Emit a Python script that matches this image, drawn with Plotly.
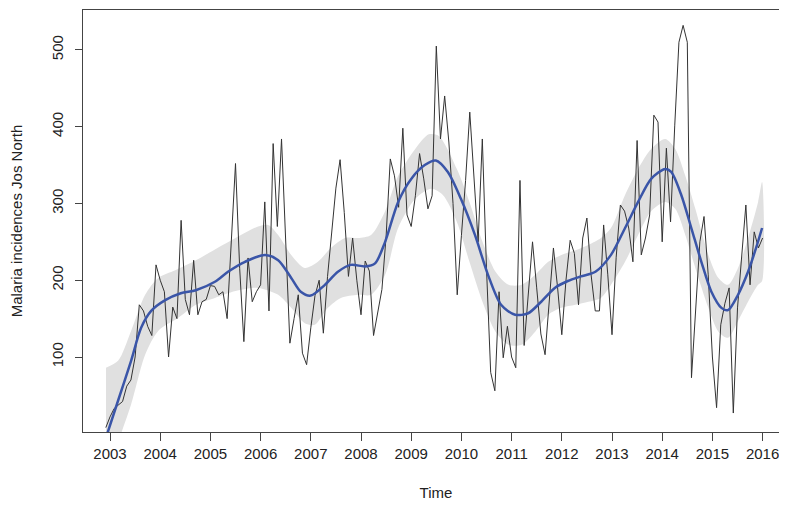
import numpy as np
import plotly.graph_objects as go

# Monthly malaria incidences, Jos North (Dec 2002 .. Jan 2016)
start_year = 2002 + 11 / 12
incidences = [
    8, 22, 33, 37, 42, 62, 70, 100, 168, 160, 140, 128,
    220, 200, 185, 100, 165, 150, 278, 175, 155, 226, 155, 172,
    175, 193, 192, 181, 185, 150, 250, 352, 215, 120, 229, 172,
    185, 194, 302, 160, 378, 270, 384, 250, 118, 150, 181, 105,
    90, 138, 180, 200, 131, 205, 268, 320, 357, 288, 205, 255,
    200, 155, 225, 212, 128, 160, 188, 257, 358, 336, 295, 398,
    285, 270, 310, 365, 332, 293, 310, 505, 384, 440, 380, 300,
    181, 258, 330, 419, 330, 250, 384, 215, 80, 56, 185, 99,
    140, 100, 86, 330, 115, 180, 250, 190, 130, 103, 168, 242,
    190, 129, 200, 252, 235, 168, 255, 281, 207, 160, 160, 272,
    207, 129, 230, 298, 290, 268, 224, 382, 233, 255, 285, 415,
    406, 250, 372, 276, 402, 510, 532, 510, 73, 164, 250, 283,
    207, 100, 34, 142, 170, 190, 27, 164, 230, 298, 194, 263,
    242, 255,
]
time = start_year + np.arange(len(incidences)) / 12

# Smoothed trend
trend_t = [2002.92, 2003.16, 2003.42, 2003.62, 2003.82, 2004.10, 2004.41, 2004.71,
           2005.09, 2005.35, 2005.69, 2006.09, 2006.35, 2006.61, 2006.80, 2007.00,
           2007.28, 2007.54, 2007.80, 2008.08, 2008.28, 2008.48, 2008.74, 2009.00,
           2009.27, 2009.49, 2009.73, 2009.99, 2010.27, 2010.53, 2010.79, 2011.07,
           2011.33, 2011.59, 2011.86, 2012.12, 2012.38, 2012.67, 2012.98, 2013.26,
           2013.52, 2013.78, 2014.06, 2014.18, 2014.38, 2014.58, 2014.78, 2014.98,
           2015.18, 2015.31, 2015.51, 2015.71, 2015.87, 2015.99]
trend_v = [-5, 43, 95, 138, 160, 174, 183, 187,
           198, 211, 224, 233, 226, 203, 185, 180,
           194, 211, 220, 218, 222, 250, 302, 332,
           350, 356, 341, 306, 259, 207, 168, 155,
           157, 172, 190, 199, 205, 211, 233, 268,
           302, 332, 345, 341, 311, 268, 224, 185,
           164, 161, 181, 211, 242, 268]

# Confidence band
upper_t = [2002.92, 2003.16, 2003.42, 2003.70, 2003.96, 2004.30, 2004.71, 2005.09,
           2005.50, 2005.95, 2006.15, 2006.35, 2006.61, 2006.88, 2007.14, 2007.40,
           2007.68, 2007.94, 2008.20, 2008.48, 2008.74, 2009.08, 2009.35, 2009.55,
           2009.91, 2010.16, 2010.42, 2010.68, 2010.94, 2011.20, 2011.47, 2011.73,
           2011.99, 2012.27, 2012.53, 2012.78, 2012.98, 2013.26, 2013.52, 2013.78,
           2014.06, 2014.26, 2014.46, 2014.66, 2014.92, 2015.12, 2015.31, 2015.51,
           2015.71, 2015.91, 2015.99]
upper_v = [86, 95, 134, 181, 203, 213, 226, 240,
           255, 270, 272, 259, 233, 216, 224, 242,
           255, 255, 259, 290, 336, 371, 390, 388,
           345, 302, 250, 211, 194, 194, 207, 224,
           233, 239, 246, 255, 268, 311, 345, 371,
           384, 371, 336, 293, 233, 203, 194, 216,
           255, 302, 328]
lower_t = [2002.92, 2003.22, 2003.42, 2003.70, 2003.96, 2004.36, 2004.71, 2005.09,
           2005.50, 2005.95, 2006.35, 2006.61, 2006.88, 2007.08, 2007.34, 2007.60,
           2007.94, 2008.20, 2008.48, 2008.74, 2009.08, 2009.40, 2009.63, 2009.91,
           2010.16, 2010.42, 2010.68, 2010.94, 2011.20, 2011.47, 2011.73, 2011.99,
           2012.27, 2012.53, 2012.78, 2012.98, 2013.26, 2013.52, 2013.78, 2014.06,
           2014.26, 2014.46, 2014.66, 2014.92, 2015.12, 2015.31, 2015.51, 2015.71,
           2015.91, 2015.99]
lower_v = [-60, 0, 38, 103, 134, 151, 168, 177,
           186, 190, 181, 164, 144, 142, 164, 177,
           181, 181, 207, 268, 306, 319, 311, 276,
           224, 172, 133, 116, 116, 133, 155, 164,
           168, 172, 177, 194, 224, 259, 290, 302,
           293, 259, 216, 164, 133, 125, 147, 172,
           194, 199]

year_ticks = list(range(2003, 2017))
value_ticks = [100, 200, 300, 400, 500]

font = dict(family="Arial, Liberation Sans, sans-serif", color="#222", size=15)

# closed band polygon: upper edge forward, lower edge backward
band_x = list(upper_t) + list(reversed(lower_t))
band_y = list(upper_v) + list(reversed(lower_v))

fig = go.Figure()
fig.add_trace(go.Scatter(x=band_x, y=band_y, mode="lines", fill="toself",
                         fillcolor="#e0e0e0", line=dict(width=0, shape="spline", smoothing=0.8),
                         hoverinfo="skip", showlegend=False))
fig.add_trace(go.Scatter(x=time, y=incidences, mode="lines",
                         line=dict(color="#333333", width=1), showlegend=False))
fig.add_trace(go.Scatter(x=trend_t, y=trend_v, mode="lines",
                         line=dict(color="#3a55a8", width=2.5, shape="spline", smoothing=0.8),
                         showlegend=False))

fig.update_layout(
    width=787, height=506,
    margin=dict(l=75, r=6, t=2, b=82),
    paper_bgcolor="white", plot_bgcolor="white",
    font=font,
    xaxis=dict(range=[2002.462, 2016.526], tickmode="array", tickvals=year_ticks,
               ticktext=[str(y) for y in year_ticks], showgrid=False, zeroline=False,
               showline=True, mirror=True, linecolor="#444", linewidth=1,
               ticks="outside", ticklen=8, tickcolor="#444", ticklabelstandoff=0,
               automargin=False,
               title=dict(text="Time", standoff=26, font=dict(size=15))),
    yaxis=dict(range=[2.3, 552], tickmode="array", tickvals=value_ticks,
               ticktext=[str(v) for v in value_ticks], tickangle=-90, showgrid=False,
               zeroline=False, showline=True, mirror=True, linecolor="#444", linewidth=1,
               ticks="outside", ticklen=7, tickcolor="#444", ticklabelstandoff=6,
               automargin=False,
               title=dict(text="Malaria incidences Jos North", standoff=32, font=dict(size=15))),
)

fig.write_html("out.html")
